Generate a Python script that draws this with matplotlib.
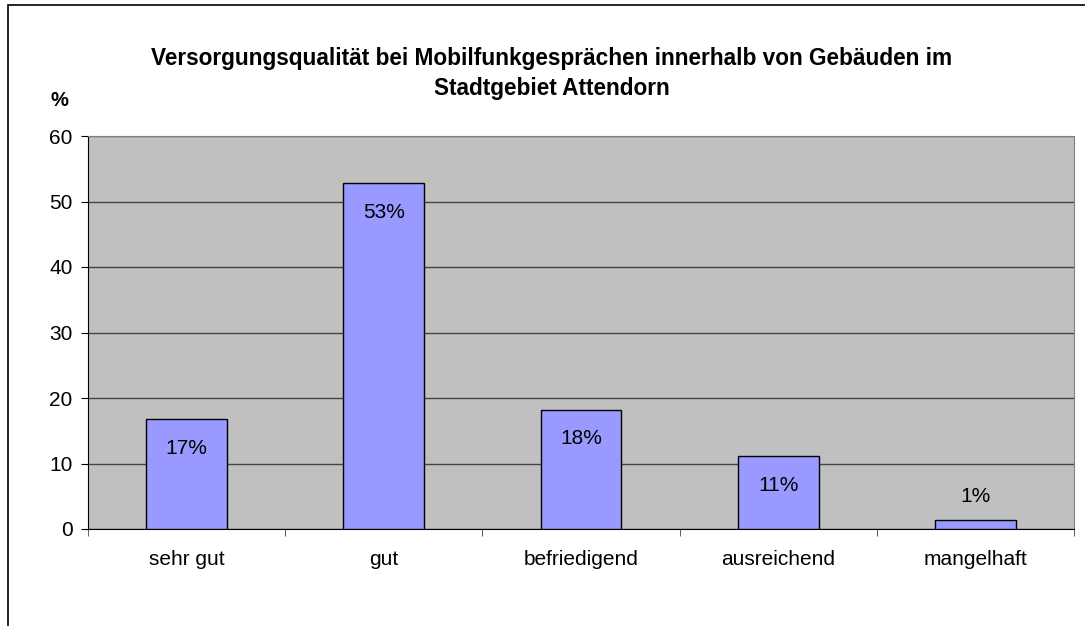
import matplotlib.pyplot as plt
import numpy as np
from matplotlib.patches import Rectangle

plt.rcParams['font.family'] = ['Liberation Sans', 'DejaVu Sans']

# Daten
kategorien = ['sehr gut', 'gut', 'befriedigend', 'ausreichend', 'mangelhaft']
werte = [16.8, 52.8, 18.2, 11.1, 1.4]
beschriftung = ['17%', '53%', '18%', '11%', '1%']
y_ticks = [0, 10, 20, 30, 40, 50, 60]

fig = plt.figure(figsize=(10.85, 6.26), dpi=100)
fig.patches.append(Rectangle((8 / 1085, -0.1), 1.2, 1 - 5 / 626 + 0.1,
                             transform=fig.transFigure, fill=False,
                             edgecolor='black', linewidth=1.2))

ax = fig.add_axes([88 / 1085, 1 - 529 / 626, (1074 - 88) / 1085, (529 - 136) / 626])
ax.set_facecolor('#C0C0C0')

x = np.arange(len(kategorien))
ax.bar(x, werte, width=0.41, color='#9999FF', edgecolor='black', linewidth=1, zorder=3)

for xi, w, t in zip(x, werte, beschriftung):
    off = -21 if w > 5 else 17
    ax.annotate(t, (xi, w), xytext=(0, off), textcoords='offset points',
                ha='center', va='center', fontsize=15, zorder=4)

ax.set_xlim(-0.5, len(kategorien) - 0.5)
ax.set_ylim(0, 60)
ax.set_yticks(y_ticks)
ax.yaxis.grid(True, color='#444444', linewidth=1, zorder=1)
ax.set_axisbelow(True)

ax.set_xticks(x)
ax.set_xticklabels(kategorien, fontsize=15)
ax.set_xticks(np.arange(len(kategorien) + 1) - 0.5, minor=True)
ax.tick_params(axis='x', which='major', length=0, pad=15)
ax.tick_params(axis='x', which='minor', length=5, color='#444444')
ax.tick_params(axis='y', labelsize=15, length=5, color='black', pad=6)

for s in ['top', 'right']:
    ax.spines[s].set_color('#808080')
ax.spines['left'].set_color('black')
ax.spines['bottom'].set_color('black')

titel = ['Versorgungsqualität bei Mobilfunkgesprächen innerhalb von Gebäuden im',
         'Stadtgebiet Attendorn']
for zeile, y in zip(titel, [58, 88]):
    fig.text(552 / 1085, 1 - y / 626, zeile, ha='center', va='center',
             fontsize=16.3, fontweight='bold')
fig.text(59 / 1085, 1 - 100 / 626, '%', ha='center', va='center', fontsize=14.5, fontweight='bold')

fig.savefig('out.png', dpi=100)
